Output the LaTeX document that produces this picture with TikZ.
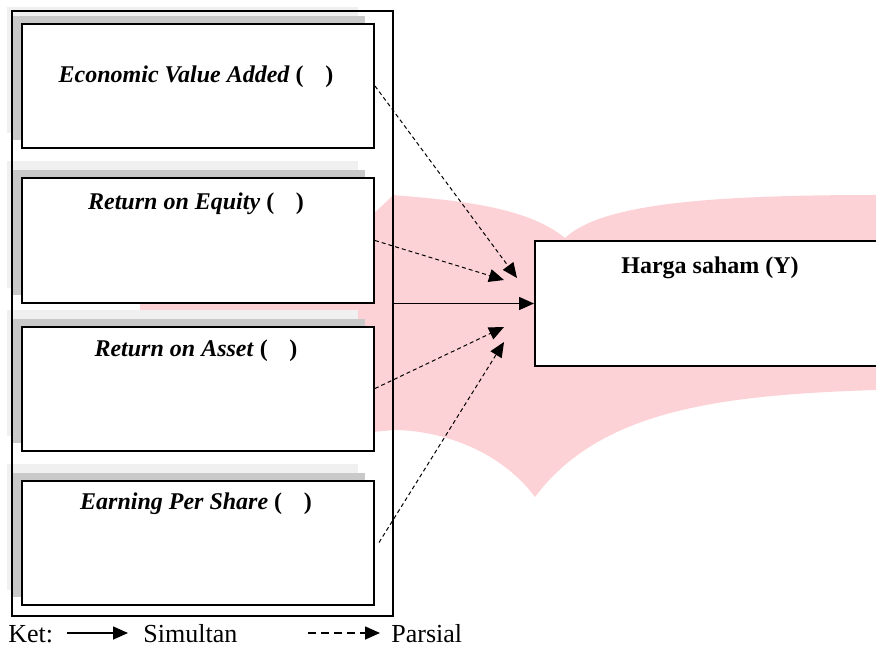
\documentclass[tikz,border=0pt]{standalone}
\usepackage{fontspec}
\setmainfont{Liberation Serif}
\usetikzlibrary{arrows.meta,calc}
\definecolor{wmpink}{RGB}{253,210,214}
\tikzset{
	varbox/.style={draw,line width=1pt,fill=white,minimum width=176pt,minimum height=62pt,inner sep=0pt},
	ybox/.style={draw,line width=1pt,fill=white,minimum width=175pt,minimum height=62.5pt,inner sep=0pt},
	boxlabel/.style={anchor=base,inner sep=0pt,font=\fontsize{12}{14}\selectfont\bfseries},
	ketlabel/.style={anchor=base west,inner sep=0pt,font=\fontsize{13}{15}\selectfont},
	simarrow/.style={line width=0.8pt,-{Triangle[length=7.5pt,width=6.5pt]}},
	partarrow/.style={line width=0.5pt,dash pattern=on 2pt off 1.5pt,-{Triangle[length=7.5pt,width=6.5pt]}}
}

\begin{document}
\begin{tikzpicture}[x=0.5pt,y=-0.5pt]
	\useasboundingbox (0,0) rectangle (876,646);
	\fill[wmpink] (140,300) .. controls (260,298) and (350,240) .. (393,195)
		.. controls (450,200) and (525,205) .. (565,238)
		.. controls (600,205) and (700,195) .. (876,195) -- (876,390)
		.. controls (720,395) and (600,410) .. (535,497)
		.. controls (500,450) and (440,430) .. (393,430)
		.. controls (300,440) and (180,445) .. (140,430) -- cycle;
	\foreach \cy in {86,240.5,388.5,542.5} {
		\fill[gray!12] (7,\cy-79) rectangle (358,\cy+47);
		\fill[gray!42] (13,\cy-70) rectangle (365,\cy+54);
	}
	\node[draw,line width=0.9pt,minimum width=190.5pt,minimum height=302.5pt,inner sep=0pt] (panel) at (202.5,313.5) {};
	\node[varbox] (eva) at (198,86) {};
	\node[varbox] (roe) at (198,240.5) {};
	\node[varbox] (roa) at (198,388.5) {};
	\node[varbox] (eps) at (198,542.5) {};
	\node[ybox] (harga) at (710,303.5) {};
	\node[boxlabel] (eva-t) at (196,83) {\textit{Economic Value Added} (\hspace{0.9em})};
	\node[boxlabel] (roe-t) at (196,210) {\textit{Return on Equity} (\hspace{0.9em})};
	\node[boxlabel] (roa-t) at (196,356) {\textit{Return on Asset} (\hspace{0.9em})};
	\node[boxlabel] (eps-t) at (196,509) {\textit{Earning Per Share} (\hspace{0.9em})};
	\node[boxlabel] (harga-t) at (710,273) {Harga saham (Y)};
	\coordinate (tipa) at (517,278);
	\coordinate (tipb) at (504,280);
	\coordinate (tipc) at (504,327);
	\coordinate (tipd) at (504,342);
	\draw[partarrow] (eva.east) -- (tipa);
	\draw[partarrow] (roe.east) -- (tipb);
	\draw[partarrow] (roa.east) -- (tipc);
	\draw[partarrow] ([xshift=2pt]eps.east) -- (tipd);
	\draw[simarrow] (panel.east |- harga.west) -- (harga.west);
	\node[ketlabel] (ket) at (8,642) {Ket:};
	\coordinate (sima) at (67,633);
	\coordinate (simb) at (128,633);
	\draw[simarrow] (sima) -- (simb);
	\node[ketlabel] (simultan) at (143,642) {Simultan};
	\coordinate (para) at (308,633);
	\coordinate (parb) at (380,633);
	\draw[line width=0.8pt,dash pattern=on 4pt off 2.5pt,-{Triangle[length=7.5pt,width=6.5pt]}] (para) -- (parb);
	\node[ketlabel] (parsial) at (391,642) {Parsial};
\end{tikzpicture}
\end{document}
